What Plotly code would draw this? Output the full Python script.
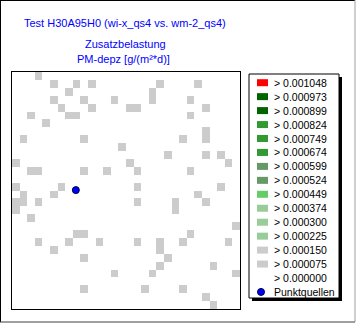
import plotly.graph_objects as go

# ---------------- data ----------------
TITLE = "Test H30A95H0 (wi-x_qs4 vs. wm-2_qs4)"
SUBTITLE_1 = "Zusatzbelastung"
SUBTITLE_2 = "PM-depz [g/(m²*d)]"

N_COLS = 30
N_ROWS = 30

# class thresholds (legend) and their colours
THRESHOLDS = [0.001048, 0.000973, 0.000899, 0.000824, 0.000749, 0.000674,
              0.000599, 0.000524, 0.000449, 0.000374, 0.000300, 0.000225,
              0.000150, 0.000075, 0.000000]
CLASS_COLORS = ["#FF0000", "#006400", "#006400", "#339933", "#339933", "#339933",
                "#669966", "#669966", "#66CC66", "#99CC99", "#99CC99", "#99CC99",
                "#CCCCCC", "#CCCCCC", "#FFFFFF"]
LEGEND_LABELS = ["> %.6f" % t for t in THRESHOLDS]

# grid cells with additional load (row -> list of columns), all in the light grey class
CELL_ROWS = {
    0: [3],
    1: [5, 8, 10, 19, 24],
    2: [7, 18],
    3: [5, 9, 13, 18, 23],
    4: [6, 10, 15, 16, 25],
    5: [2, 7, 8, 23],
    6: [4],
    7: [25],
    8: [1, 9, 22, 25],
    9: [14],
    10: [20, 25, 27],
    11: [0, 15, 28],
    12: [2, 3, 9, 12, 16, 23],
    14: [0, 6, 16, 27],
    15: [1, 5, 24],
    16: [0, 1, 3, 16, 21, 25],
    17: [0, 21],
    18: [2],
    19: [29],
    20: [8, 9, 23],
    21: [3, 7, 11, 16, 19, 22, 28],
    22: [5, 19],
    23: [9, 20],
    24: [19, 26],
    25: [13, 18, 29],
    27: [9, 17, 22],
    28: [25],
    29: [26],
}
CELL_VALUE = 0.00010  # g/(m²*d), grey class

# point source (grid units)
SOURCE_X = [7.9]
SOURCE_Y = [14.45]
SOURCE_NAME = "Punktquellen"

# ---------------- build ----------------
W, H = 360, 327
FONT = "Liberation Sans, Arial, sans-serif"
BLUE = "#0000FF"


def class_index(v):
    for i, t in enumerate(THRESHOLDS):
        if v > t:
            return i
    return len(THRESHOLDS) - 1


n_cls = len(THRESHOLDS)
z = [[None] * N_COLS for _ in range(N_ROWS)]
for r, cols in CELL_ROWS.items():
    for c in cols:
        z[r][c] = class_index(CELL_VALUE) + 0.5

colorscale = []
for i, col in enumerate(CLASS_COLORS):
    colorscale.append([i / n_cls, col])
    colorscale.append([(i + 1) / n_cls, col])

MARKER = dict(size=7, color=BLUE, line=dict(color="#000040", width=1))

fig = go.Figure()
fig.add_trace(go.Heatmap(z=z, x=list(range(N_COLS)), y=list(range(N_ROWS)),
                         colorscale=colorscale, zmin=0, zmax=n_cls,
                         showscale=False, hoverinfo="skip"))
fig.add_trace(go.Scatter(x=SOURCE_X, y=SOURCE_Y, mode="markers", marker=MARKER,
                         showlegend=False, hoverinfo="skip"))

shapes = []
ann = []
P = dict(xref="x2", yref="y2")
# outer frame
shapes.append(dict(type="line", x0=0, x1=355, y0=0.5, y1=0.5, line=dict(color="black", width=1), **P))
shapes.append(dict(type="line", x0=0.5, x1=0.5, y0=0, y1=322, line=dict(color="black", width=1), **P))
shapes.append(dict(type="line", x0=355, x1=355, y0=0, y1=322, line=dict(color="#A0A0A0", width=1), **P))
shapes.append(dict(type="line", x0=0, x1=355, y0=322, y1=322, line=dict(color="#404040", width=1), **P))

# legend box with shadow
LX0, LX1, LY0, LY1 = 249, 339, 74, 298
shapes.append(dict(type="rect", x0=LX0 + 3, x1=LX1 + 3, y0=LY0 + 3, y1=LY1 + 3, layer="below",
                   fillcolor="black", line=dict(width=0), **P))
shapes.append(dict(type="rect", x0=LX0, x1=LX1, y0=LY0, y1=LY1, layer="below",
                   fillcolor="white", line=dict(color="black", width=1), **P))

LFONT = dict(family=FONT, size=10.5, color="black")
ROW0, DY = 82.7, 13.95
for i, (lab, col) in enumerate(zip(LEGEND_LABELS, CLASS_COLORS)):
    yc = ROW0 + i * DY
    if col.upper() != "#FFFFFF":
        shapes.append(dict(type="rect", x0=257, x1=268, y0=yc - 3.5, y1=yc + 3.5,
                           fillcolor=col, line=dict(width=0), **P))
    ann.append(dict(x=272, y=yc, text=lab, showarrow=False, xanchor="left", yanchor="middle",
                    font=LFONT, **P))
yc = ROW0 + n_cls * DY
ann.append(dict(x=272, y=yc, text=SOURCE_NAME, showarrow=False, xanchor="left", yanchor="middle",
                font=LFONT, **P))

# titles
TFONT = dict(family=FONT, size=11, color=BLUE)
ann.append(dict(x=125, y=22.5, text=TITLE, showarrow=False, xanchor="center", yanchor="middle",
                font=TFONT, **P))
ann.append(dict(x=125, y=44, text=SUBTITLE_1, showarrow=False, xanchor="center", yanchor="middle",
                font=TFONT, **P))
ann.append(dict(x=123, y=58.5, text=SUBTITLE_2, showarrow=False, xanchor="center", yanchor="middle",
                font=TFONT, **P))

fig.add_trace(go.Scatter(x=[261], y=[ROW0 + n_cls * DY], xaxis="x2", yaxis="y2", mode="markers",
                         marker=MARKER, showlegend=False, hoverinfo="skip"))

fig.update_layout(
    width=W, height=H, margin=dict(l=0, r=0, t=0, b=0),
    paper_bgcolor="white", plot_bgcolor="rgba(0,0,0,0)",
    showlegend=False, shapes=shapes, annotations=ann,
    xaxis=dict(domain=[12 / W, 240 / W], range=[-0.5, N_COLS - 0.5], showgrid=False,
               zeroline=False, showticklabels=False, ticks="", showline=True, mirror=True,
               linecolor="black", linewidth=1),
    yaxis=dict(domain=[1 - 309 / H, 1 - 72 / H], range=[N_ROWS - 0.5, -0.5], showgrid=False,
               zeroline=False, showticklabels=False, ticks="", showline=True, mirror=True,
               linecolor="black", linewidth=1),
    xaxis2=dict(domain=[0, 1], range=[0, W], visible=False, anchor="y2"),
    yaxis2=dict(domain=[0, 1], range=[H, 0], visible=False, anchor="x2"),
)

fig.write_html("out.html")
